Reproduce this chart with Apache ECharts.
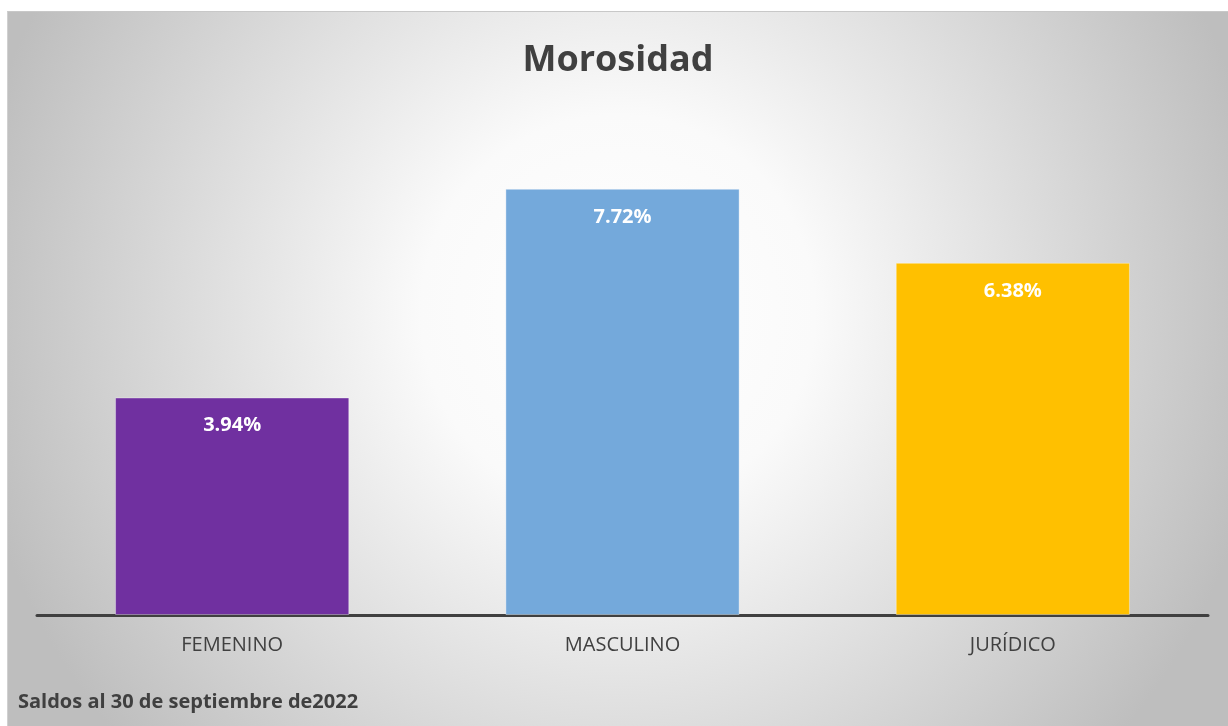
<!DOCTYPE html>
<html>
<head>
<meta charset="utf-8">
<script src="https://cdn.jsdelivr.net/npm/echarts@6/dist/echarts.min.js"></script>
<style>
    html, body { margin: 0; padding: 0; background: #fff; }
    #chart {
        position: absolute;
        left: 7px;
        top: 11px;
        width: 1221px;
        height: 715px;
        border-top: 1px solid #c8c8c8;
        border-left: 1px solid #d0d0d0;
        box-sizing: border-box;
    }
</style>
</head>
<body>
<div id="chart"></div>
<script>
    // categorías y valores (%)
    var categories = ['FEMENINO', 'MASCULINO', 'JURÍDICO'];
    var values = [3.94, 7.72, 6.38];
    var barColors = ['#7030A0', '#74A9DB', '#FFC000'];

    var font = '"Open Sans", "Noto Sans", sans-serif';
    var chart = echarts.init(document.getElementById('chart'));

    chart.setOption({
        backgroundColor: {
            type: 'radial',
            x: 0.5, y: 0.42, r: 0.92,
            colorStops: [
                { offset: 0, color: '#ffffff' },
                { offset: 0.3, color: '#fafafa' },
                { offset: 1, color: '#bebebe' }
            ]
        },
        title: {
            text: 'Morosidad',
            left: 'center',
            top: 26,
            textStyle: { fontFamily: font, fontSize: 36, fontWeight: 'bold', color: '#404040' }
        },
        grid: { left: 29, right: 20, top: 51, bottom: 111 },
        xAxis: {
            type: 'category',
            data: categories,
            axisLine: { lineStyle: { color: '#404040', width: 3 } },
            axisTick: { show: false },
            axisLabel: { margin: 20, fontFamily: font, fontSize: 20, color: '#404040' }
        },
        yAxis: {
            type: 'value',
            min: 0,
            max: 10,
            show: false,
            splitLine: { show: false }
        },
        series: [{
            type: 'bar',
            barWidth: '60%',
            data: values.map(function (v, i) {
                return { value: v, itemStyle: { color: barColors[i] } };
            }),
            itemStyle: { borderColor: 'rgba(255,255,255,0.35)', borderWidth: 1 },
            label: {
                show: true,
                position: 'insideTop',
                distance: 18,
                formatter: function (p) { return p.value.toFixed(2) + '%'; },
                fontFamily: font,
                fontSize: 20,
                fontWeight: 'bold',
                color: '#ffffff'
            }
        }],
        graphic: [{
            type: 'text',
            left: 10,
            top: 680,
            style: {
                text: 'Saldos al 30 de septiembre de2022',
                fontFamily: font,
                fontSize: 20,
                fontWeight: 'bold',
                fill: '#404040'
            }
        }]
    });
</script>
</body>
</html>
